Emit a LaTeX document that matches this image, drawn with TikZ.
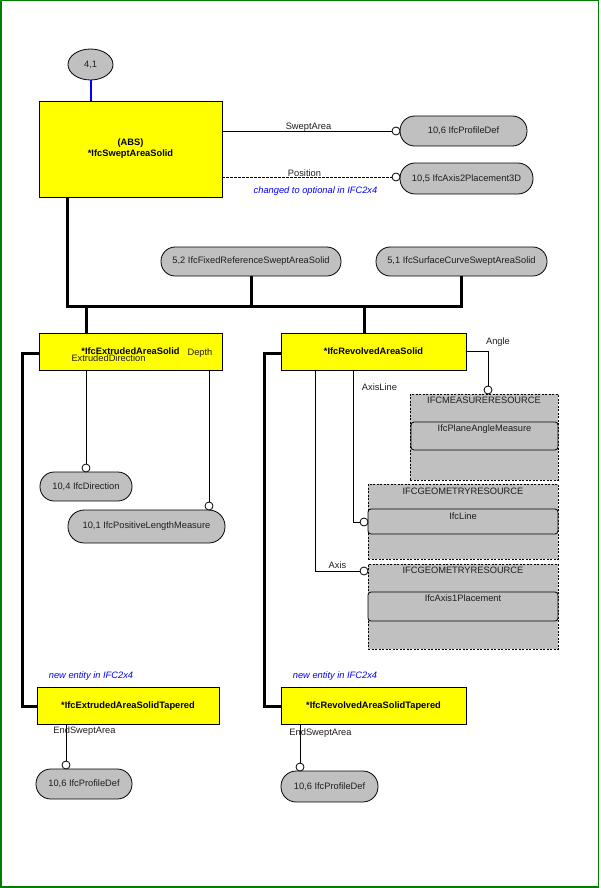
\documentclass[tikz,border=0pt]{standalone}
\usepackage{fontspec}
\setmainfont{Liberation Sans}
\usetikzlibrary{shapes.geometric}
\definecolor{ifcyellow}{RGB}{255,255,0}
\definecolor{gfill}{RGB}{192,192,192}
\definecolor{framegreen}{RGB}{0,128,0}
\definecolor{noteblue}{RGB}{0,0,255}
\definecolor{txt}{RGB}{30,30,30}
\newcommand\dfont{\fontsize{9.3}{11}\selectfont}
\begin{document}
\begin{tikzpicture}[x=1pt,y=-1pt,
  every node/.style={inner sep=0pt, outer sep=0pt},
  lbl/.style={font=\dfont, text=txt},
  note/.style={font=\dfont\itshape, text=noteblue},
  entity/.style={draw, line width=0.9pt, fill=ifcyellow, font=\dfont\bfseries, align=center},
  pill/.style={draw, line width=0.8pt, fill=gfill, font=\dfont, text=txt, rounded corners=0.49*#1pt, minimum height=#1pt},
  schema/.style={draw, line width=0.8pt, dash pattern=on 2pt off 1.5pt, fill=gfill},
  innerbox/.style={draw, line width=0.8pt, fill=gfill, rounded corners=3pt},
  circ/.style={circle, draw, line width=0.8pt, fill=white, minimum size=8pt},
  bus/.style={line width=3pt},
  link/.style={line width=0.8pt}]
\useasboundingbox (0,0) rectangle (600,888);
\draw[framegreen, line width=1.5pt] (0.75,0.75) rectangle (598.3,886.8);

% ---- nodes
\node[ellipse, draw, line width=0.8pt, fill=gfill, minimum width=45pt, minimum height=31pt, font=\dfont, text=txt] (n41) at (90.5,64.5) {4,1};
\node[entity, minimum width=183pt, minimum height=96pt] (sas) at (130.5,149) {(ABS)\\*IfcSweptAreaSolid};
\node[pill=30, minimum width=127pt] (pd1) at (463.5,131) {10,6 IfcProfileDef};
\node[pill=31, minimum width=133pt] (a2p) at (466.5,178.5) {10,5 IfcAxis2Placement3D};
\node[pill=29, minimum width=180pt] (frs) at (251,261.5) {5,2 IfcFixedReferenceSweptAreaSolid};
\node[pill=29, minimum width=171pt] (scs) at (461.5,261.5) {5,1 IfcSurfaceCurveSweptAreaSolid};
\node[entity, minimum width=183pt, minimum height=37pt] (eas) at (130.5,351.5) {*IfcExtrudedAreaSolid};
\node[entity, minimum width=185pt, minimum height=37pt] (ras) at (373.5,351.5) {*IfcRevolvedAreaSolid};
\node[pill=29, minimum width=92pt] (dir) at (86,486.5) {10,4 IfcDirection};
\node[pill=33, minimum width=157pt] (plm) at (146.5,526.5) {10,1 IfcPositiveLengthMeasure};

\node[schema, minimum width=148pt, minimum height=86pt] (mr) at (484,437) {};
\node[innerbox, minimum width=147pt, minimum height=28pt] (pam) at (484.5,436) {};
\node[lbl] (mrt) at (484,400.5) {IFCMEASURERESOURCE};
\node[lbl] (pamt) at (484.5,429) {IfcPlaneAngleMeasure};

\node[schema, minimum width=190pt, minimum height=75pt] (gr1) at (463,521.5) {};
\node[innerbox, minimum width=190pt, minimum height=25pt] (lin) at (463,521.5) {};
\node[lbl] (gr1t) at (463,491) {IFCGEOMETRYRESOURCE};
\node[lbl] (lint) at (463,516) {IfcLine};

\node[schema, minimum width=190pt, minimum height=85pt] (gr2) at (463,606.5) {};
\node[innerbox, minimum width=190pt, minimum height=29pt] (a1p) at (463,606.5) {};
\node[lbl] (gr2t) at (463,570.5) {IFCGEOMETRYRESOURCE};
\node[lbl] (a1pt) at (463,598.5) {IfcAxis1Placement};

\node[entity, minimum width=182pt, minimum height=37pt] (east) at (128,706) {*IfcExtrudedAreaSolidTapered};
\node[entity, minimum width=185pt, minimum height=37pt] (rast) at (373.5,706) {*IfcRevolvedAreaSolidTapered};
\node[pill=30, minimum width=96pt] (pd2) at (84,784) {10,6 IfcProfileDef};
\node[pill=31, minimum width=97pt] (pd3) at (329.5,786.5) {10,6 IfcProfileDef};

% ---- circles
\node[circ] (cSA) at (396,131) {};
\node[circ] (cPos) at (396,177) {};
\node[circ] (cDir) at (86,468) {};
\node[circ] (cDep) at (209,506) {};
\node[circ] (cAng) at (488,390) {};
\node[circ] (cAL) at (364,522) {};
\node[circ] (cAx) at (364,571) {};
\node[circ] (cE1) at (66,765) {};
\node[circ] (cE2) at (300,767) {};

% ---- helper coordinates
\coordinate (bL) at (67,306);
\coordinate (bR) at (461.5,306);
\coordinate (dE) at (86,306);
\coordinate (dR) at (364,306);
\coordinate (lE) at (22,353);
\coordinate (lR) at (264,353);
\coordinate (kAng) at (488,351);
\coordinate (kAL) at (353,522);
\coordinate (kAx) at (315,571);

% ---- connectors
\draw[noteblue, line width=2pt] (n41.south) -- (n41.south |- sas.north);
\draw[bus] (sas.south -| bL) -- (bL) -- (bR) -- (scs.south);
\draw[bus] (frs.south) -- (frs.south |- bL);
\draw[bus] (dE) -- (dE |- eas.north);
\draw[bus] (dR) -- (dR |- ras.north);
\draw[bus] (eas.west |- lE) -- (lE) |- (east.west);
\draw[bus] (ras.west |- lR) -- (lR) |- (rast.west);

\draw[link] (sas.east |- cSA) -- (cSA);
\draw[link, dash pattern=on 2.5pt off 1.5pt] (sas.east |- cPos) -- (cPos);
\draw[link] (eas.south -| cDir) -- (cDir);
\draw[link] (eas.south -| cDep) -- (cDep);
\draw[link] (ras.east |- kAng) -- (kAng) -- (cAng);
\draw[link] (ras.south -| kAL) -- (kAL) -- (cAL);
\draw[link] (ras.south -| kAx) -- (kAx) -- (cAx);
\draw[link] (east.south -| cE1) -- (cE1);
\draw[link] (rast.south -| cE2) -- (cE2);

% ---- labels
\node[lbl] (lSA) at (308.5,127) {SweptArea};
\node[lbl] (lPos) at (304.5,173) {Position};
\node[note] (nOpt) at (315.5,191) {changed to optional in IFC2x4};
\node[lbl] (lED) at (108.5,358) {ExtrudedDirection};
\node[lbl] (lDep) at (200,353) {Depth};
\node[lbl] (lAng) at (498,342) {Angle};
\node[lbl] (lAL) at (379.5,387) {AxisLine};
\node[lbl] (lAx) at (337.5,565) {Axis};
\node[note] (nNew1) at (91,676) {new entity in IFC2x4};
\node[note] (nNew2) at (335,676) {new entity in IFC2x4};
\node[lbl] (lES1) at (84.5,731) {EndSweptArea};
\node[lbl] (lES2) at (320.5,733) {EndSweptArea};
\end{tikzpicture}
\end{document}
